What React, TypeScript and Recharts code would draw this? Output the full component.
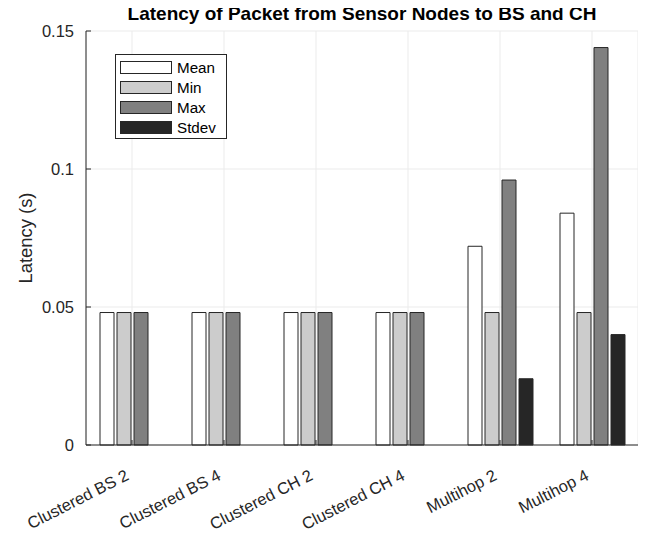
import { Bar, BarChart, CartesianGrid, XAxis, YAxis } from "recharts";

const categories = [
  "Clustered BS 2",
  "Clustered BS 4",
  "Clustered CH 2",
  "Clustered CH 4",
  "Multihop 2",
  "Multihop 4",
];
const meanValues = [0.048, 0.048, 0.048, 0.048, 0.072, 0.084];
const minValues = [0.048, 0.048, 0.048, 0.048, 0.048, 0.048];
const maxValues = [0.048, 0.048, 0.048, 0.048, 0.096, 0.144];
const stdevValues = [0, 0, 0, 0, 0.024, 0.04];
const yTicks = [0, 0.05, 0.1, 0.15];

const seriesNames = ["Mean", "Min", "Max", "Stdev"];
const seriesKeys = ["mean", "min", "max", "stdev"];
const seriesColors = ["#ffffff", "#cccccc", "#808080", "#262626"];

const data = categories.map((name, i) => ({
  name,
  mean: meanValues[i],
  min: minValues[i],
  max: maxValues[i],
  stdev: stdevValues[i],
}));

const AXIS = "#262626";
const FONT = "'Liberation Sans', Arial, Helvetica, sans-serif";
const Y_TICK_MARGIN = 12;

function YTick({ x, y, payload }: any) {
  const axisX = x + Y_TICK_MARGIN;
  return (
    <g>
      <line x1={axisX} x2={axisX + 5} y1={y} y2={y} stroke={AXIS} />
      <text x={x} y={y} dy="0.35em" textAnchor="end" fontSize={16.5} fill={AXIS}>
        {payload.value}
      </text>
    </g>
  );
}

function XTick({ x, y, payload }: any) {
  return (
    <g>
      <line x1={x} x2={x} y1={y} y2={y - 5} stroke={AXIS} />
      <text
        transform={`translate(${x - 2},${y + 34}) rotate(-27)`}
        textAnchor="end"
        fontSize={16.5}
        fill={AXIS}
      >
        {payload.value}
      </text>
    </g>
  );
}

function LegendBox() {
  return (
    <div
      style={{
        position: "absolute",
        left: 107,
        top: 46,
        width: 112,
        height: 85,
        boxSizing: "border-box",
        border: `1px solid ${AXIS}`,
        background: "#fff",
        padding: "2px 0 0 4px",
      }}
    >
      {seriesNames.map((name, i) => (
        <div key={name} style={{ display: "flex", alignItems: "center", height: 20 }}>
          <div
            style={{
              width: 52,
              height: 13,
              boxSizing: "border-box",
              border: `1px solid ${AXIS}`,
              background: seriesColors[i],
            }}
          />
          <span style={{ marginLeft: 5, fontSize: 15.2, color: "#000" }}>{name}</span>
        </div>
      ))}
    </div>
  );
}

export default function App() {
  return (
    <div style={{ position: "relative", width: 638, height: 527, fontFamily: FONT }}>
      <BarChart
        width={638}
        height={527}
        data={data}
        margin={{ top: 23, right: 8, bottom: 30, left: 0 }}
        barCategoryGap={14}
        barGap={3}
      >
        <CartesianGrid stroke="#ebebeb" />
        <XAxis
          dataKey="name"
          height={60}
          tickSize={0}
          tickMargin={0}
          tickLine={false}
          axisLine={{ stroke: AXIS }}
          interval={0}
          tick={<XTick />}
        />
        <XAxis
          xAxisId="top"
          dataKey="name"
          orientation="top"
          mirror
          height={0}
          tickSize={5}
          interval={0}
          axisLine={{ stroke: AXIS }}
          tickLine={{ stroke: AXIS }}
          tick={() => <g />}
        />
        <YAxis
          width={78}
          domain={[0, 0.15]}
          ticks={yTicks}
          tickSize={0}
          tickMargin={Y_TICK_MARGIN}
          tickLine={false}
          axisLine={{ stroke: AXIS }}
          tick={<YTick />}
          label={{
            value: "Latency (s)",
            angle: -90,
            position: "insideLeft",
            offset: 17,
            fontSize: 18.4,
            fill: AXIS,
            style: { textAnchor: "middle" },
          }}
        />
        <YAxis
          yAxisId="right"
          orientation="right"
          mirror
          width={0}
          domain={[0, 0.15]}
          allowDataOverflow
          ticks={yTicks}
          tickSize={5}
          axisLine={{ stroke: AXIS }}
          tickLine={{ stroke: AXIS }}
          tick={() => <g />}
        />
        {seriesKeys.map((key, i) => (
          <Bar
            key={key}
            dataKey={key}
            name={seriesNames[i]}
            fill={seriesColors[i]}
            stroke={AXIS}
            strokeWidth={1}
            isAnimationActive={false}
          />
        ))}
      </BarChart>
      <div
        style={{
          position: "absolute",
          left: 78,
          width: 552,
          top: -4,
          textAlign: "center",
          fontSize: 19,
          lineHeight: "19px",
          fontWeight: "bold",
          color: "#000",
        }}
      >
        Latency of Packet from Sensor Nodes to BS and CH
      </div>
      <LegendBox />
    </div>
  );
}
